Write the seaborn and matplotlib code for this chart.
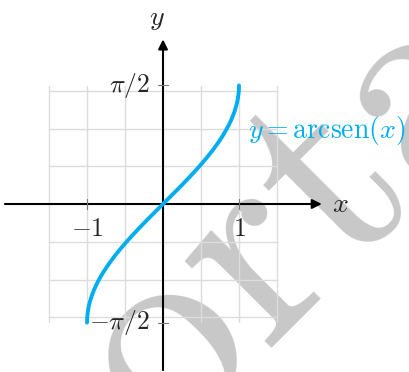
import numpy as np
import pandas as pd
import matplotlib
matplotlib.use("Agg")
import matplotlib.pyplot as plt
import seaborn as sns

# --- values -------------------------------------------------------------
x_domain = [-1.0, 1.0]                       # arcsen is defined on [-1, 1]
x_ticks = [-1, 1]
x_tick_labels = [r"$-1$", r"$1$"]
y_ticks = [-np.pi / 2, np.pi / 2]
y_tick_labels = [r"$-\pi/2$", r"$\pi/2$"]
grid_x = [-1.5, -1.0, -0.5, 0.5, 1.0, 1.5]
grid_y = [-1.5, -1.0, -0.5, 0.5, 1.0, 1.5]
curve_label = r"$y = \mathrm{arcsen}(x)$"
watermark = "orta"

xs = np.linspace(x_domain[0], x_domain[1], 801)
curve = pd.DataFrame({"x": xs, "y": np.arcsin(xs)})

# --- style ----------------------------------------------------------------
sns.set_theme(style="white")
plt.rcParams["mathtext.fontset"] = "cm"
plt.rcParams["font.family"] = ["DejaVu Sans"]

BLUE = "#00aeef"
GRID = "#dcdcdc"
XLIM = (-2.145, 3.237)
YLIM = (-2.225, 2.702)

fig = plt.figure(figsize=(4.09, 3.72), dpi=100)
ax = fig.add_axes([0, 0, 1, 1])

# watermark behind everything
ax.text(0.01, -3.23, watermark, family="cmr10", fontsize=205, color="#c8c8c8",
        rotation=45, rotation_mode="anchor", ha="left", va="baseline", zorder=0)

# background grid
for gx in grid_x:
    ax.plot([gx, gx], [-1.56, 1.56], color=GRID, lw=1.0, zorder=1)
for gy in grid_y:
    ax.plot([-1.5, 1.5], [gy, gy], color=GRID, lw=1.0, zorder=1)

# axes with arrow heads
arrow = dict(arrowstyle="-|>", color="black", lw=1.5, mutation_scale=14,
             shrinkA=0, shrinkB=0)
ax.annotate("", xy=(2.09, 0), xytext=(-2.08, 0), arrowprops=arrow, zorder=3)
ax.annotate("", xy=(0, 2.18), xytext=(0, -2.2), arrowprops=arrow, zorder=3)
ax.text(2.33, 0.0, r"$x$", fontsize=20, ha="center", va="center", zorder=4)
ax.text(-0.08, 2.47, r"$y$", fontsize=20, ha="center", va="center", zorder=4)

# ticks and tick labels
for t, lab in zip(x_ticks, x_tick_labels):
    ax.plot([t, t], [-0.06, 0.06], color="#777777", lw=0.8, zorder=4)
    ax.text(t, -0.33, lab, fontsize=18.5, ha="center", va="center", zorder=4)
for t, lab in zip(y_ticks, y_tick_labels):
    ax.plot([-0.06, 0.06], [t, t], color="#777777", lw=0.8, zorder=4)
    ax.text(-0.17, t, lab, fontsize=18.5, ha="right", va="center", zorder=4)

# the curve
sns.lineplot(data=curve, x="x", y="y", color=BLUE, lw=2.8, ax=ax,
             sort=False, zorder=5)
ax.text(1.12, 0.98, curve_label, color=BLUE, fontsize=20,
        ha="left", va="center", zorder=5)

ax.set_xlim(*XLIM)
ax.set_ylim(*YLIM)
ax.axis("off")
fig.savefig("out.png", dpi=100)
